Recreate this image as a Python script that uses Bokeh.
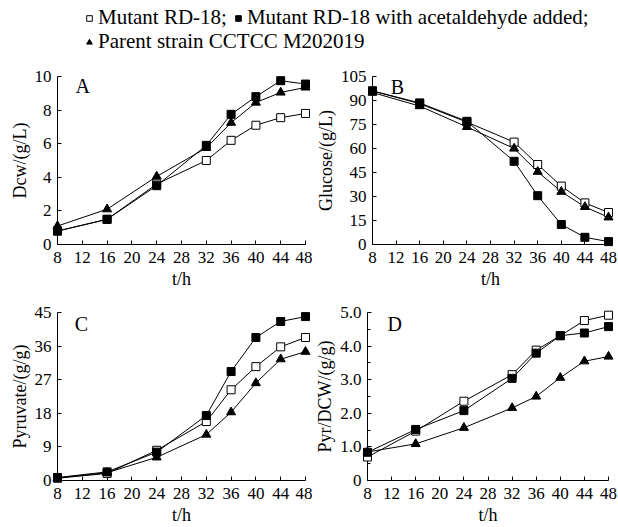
from bokeh.plotting import figure
from bokeh.layouts import column, row
from bokeh.models import Range1d, Legend, LegendItem, Label, FixedTicker
from bokeh.embed import file_html
from bokeh.resources import INLINE

# ---------------- data ----------------
hours = [8, 16, 24, 32, 36, 40, 44, 48]
series_names = ["Mutant RD-18;", "Mutant RD-18 with acetaldehyde added;", "Parent strain CCTCC M202019"]

dcw_mutant = [0.8, 1.5, 3.6, 5.0, 6.2, 7.1, 7.55, 7.8]
dcw_acet = [0.8, 1.5, 3.5, 5.9, 7.75, 8.8, 9.75, 9.55]
dcw_parent = [1.1, 2.1, 4.05, 5.75, 7.25, 8.45, 9.05, 9.35]

glc_mutant = [96, 88, 76.5, 64, 50, 36.5, 26, 20]
glc_acet = [96, 88.5, 77, 52, 30.5, 12.5, 4.5, 1.8]
glc_parent = [95, 86.5, 73.5, 60, 45.5, 33, 23.5, 17]

pyr_mutant = [0.6, 1.9, 8.1, 15.8, 24.3, 30.5, 35.8, 38.3]
pyr_acet = [0.8, 2.3, 7.6, 17.4, 29.2, 38.3, 42.6, 43.9]
pyr_parent = [0.7, 2.1, 6.2, 12.3, 18.3, 26.1, 32.5, 34.5]

ratio_mutant = [0.7, 1.47, 2.36, 3.15, 3.88, 4.31, 4.76, 4.92]
ratio_acet = [0.84, 1.52, 2.08, 3.04, 3.79, 4.31, 4.39, 4.58]
ratio_parent = [0.85, 1.09, 1.57, 2.16, 2.5, 3.06, 3.55, 3.69]

x_ticks = [8, 12, 16, 20, 24, 28, 32, 36, 40, 44, 48]
a_ticks = [0, 2, 4, 6, 8, 10]
b_ticks = [0, 15, 30, 45, 60, 75, 90, 105]
c_ticks = [0, 9, 18, 27, 36, 45]
d_ticks = [0, 1, 2, 3, 4, 5]
d_minor = [0.5, 1.5, 2.5, 3.5, 4.5]
d_labels = ["0", "1.0", "2.0", "3.0", "4.0", "5.0"]

FONT = "Liberation Serif"


def panel(width, height, bl, br, bt, bb, ymax, yticks, ylabel, series, letter, lx, ly, minor=None, overrides=None):
    p = figure(width=width, height=height, x_range=Range1d(8, 48), y_range=Range1d(0, ymax),
               output_backend="svg", toolbar_location=None,
               min_border_left=bl, min_border_right=br, min_border_top=bt, min_border_bottom=bb)
    p.outline_line_color = None
    p.grid.visible = False
    p.background_fill_color = "white"
    p.border_fill_color = "white"
    p.xaxis.ticker = FixedTicker(ticks=x_ticks)
    p.yaxis.ticker = FixedTicker(ticks=yticks, minor_ticks=minor or [])
    if overrides:
        p.yaxis.major_label_overrides = overrides
    p.xaxis.axis_label = "t/h"
    p.yaxis.axis_label = ylabel
    for ax in (p.xaxis[0], p.yaxis[0]):
        ax.axis_line_color = "black"
        ax.axis_line_width = 1
        ax.major_tick_line_color = "black"
        ax.minor_tick_line_color = "black"
        ax.major_tick_in = 4
        ax.major_tick_out = 0
        ax.minor_tick_in = 3 if minor else 0
        ax.minor_tick_out = 0
        ax.major_label_text_font = FONT
        ax.major_label_text_font_size = "17px"
        ax.major_label_text_color = "black"
        ax.axis_label_text_font = FONT
        ax.axis_label_text_font_size = "18px"
        ax.axis_label_text_font_style = "normal"
        ax.axis_label_text_color = "black"
    p.xaxis.major_label_standoff = 7
    p.xaxis.axis_label_standoff = 3
    p.yaxis.major_label_standoff = 6
    p.yaxis.axis_label_standoff = 2

    mut, acet, par = series
    for ys in (mut, acet, par):
        r = p.line(hours, ys, line_color="black", line_width=1)
        r.level = "overlay"
    r = p.scatter(hours, mut, marker="square", size=8, fill_color="white", line_color="black", line_width=1)
    r.level = "overlay"
    r = p.scatter(hours, par, marker="triangle", size=9, fill_color="black", line_color="black")
    r.level = "overlay"
    r = p.scatter(hours, acet, marker="square", size=8, fill_color="black", line_color="black")
    r.level = "overlay"

    p.add_layout(Label(x=lx, y=ly, text=letter, text_font=FONT, text_font_size="20px",
                       text_baseline="middle", text_align="left", text_color="black"))
    return p


pA = panel(312, 242, 57, 7, 20, 53, 10, a_ticks, "Dcw/(g/L)",
           (dcw_mutant, dcw_acet, dcw_parent), "A", 10.9, 9.45)
pB = panel(306, 242, 49, 10, 19, 54, 105, b_ticks, "Glucose/(g/L)",
           (glc_mutant, glc_acet, glc_parent), "B", 11.1, 98.5)
pC = panel(312, 229, 57, 7, 14, 46, 45, c_ticks, "Pyruvate/(g/g)",
           (pyr_mutant, pyr_acet, pyr_parent), "C", 10.8, 41.8)
pD = panel(306, 229, 49, 10, 14, 46, 5, d_ticks, "Pyr/DCW/(g/g)",
           (ratio_mutant, ratio_acet, ratio_parent), "D", 11.3, 4.65,
           minor=d_minor, overrides={t: s for t, s in zip(d_ticks, d_labels)})

# ---------------- legend strip ----------------
pl = figure(width=618, height=56, x_range=Range1d(0, 1), y_range=Range1d(0, 1),
            output_backend="svg", toolbar_location=None,
            x_axis_type=None, y_axis_type=None,
            min_border_left=0, min_border_right=0, min_border_top=0, min_border_bottom=0)
pl.outline_line_color = None
pl.grid.visible = False
# legend proxies (kept outside the visible range, only their legend glyphs show)
g1 = pl.scatter([-5], [-5], marker="square", size=8, fill_color="white", line_color="black")
g2 = pl.scatter([-5], [-5], marker="square", size=8, fill_color="black", line_color="black")
g3 = pl.scatter([-5], [-5], marker="triangle", size=9, fill_color="black", line_color="black")


def mk_legend(items, loc):
    lg = Legend(items=items, location=loc, orientation="horizontal",
                background_fill_alpha=0, border_line_alpha=0, padding=0, margin=0,
                spacing=4, label_standoff=2, glyph_width=14, glyph_height=20, label_height=20,
                label_text_font=FONT, label_text_font_size="21px", label_text_color="black")
    pl.add_layout(lg, "center")
    return lg


mk_legend([LegendItem(label=series_names[0], renderers=[g1]),
           LegendItem(label=series_names[1], renderers=[g2])], (82, 26))
mk_legend([LegendItem(label=series_names[2], renderers=[g3])], (82, 2))

layout = column(pl, row(pA, pB), row(pC, pD))

open("out.html", "w").write(file_html(layout, INLINE))
